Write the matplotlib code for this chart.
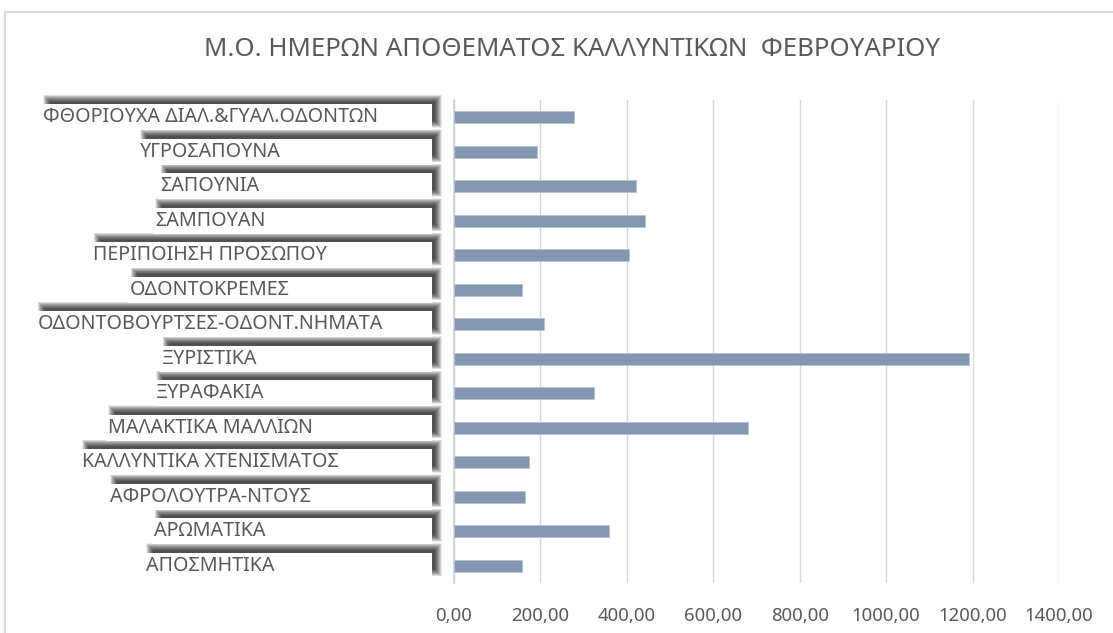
import matplotlib
matplotlib.use("Agg")
import matplotlib.pyplot as plt
from matplotlib.patches import Rectangle
from matplotlib.lines import Line2D
from matplotlib.ticker import FuncFormatter, MultipleLocator
import matplotlib.transforms as mtransforms

plt.rcParams['font.family'] = ['Noto Sans', 'DejaVu Sans']

categories = [
    "ΦΘΟΡΙΟΥΧΑ ΔΙΑΛ.&ΓΥΑΛ.ΟΔΟΝΤΩΝ",
    "ΥΓΡΟΣΑΠΟΥΝΑ",
    "ΣΑΠΟΥΝΙΑ",
    "ΣΑΜΠΟΥΑΝ",
    "ΠΕΡΙΠΟΙΗΣΗ ΠΡΟΣΩΠΟΥ",
    "ΟΔΟΝΤΟΚΡΕΜΕΣ",
    "ΟΔΟΝΤΟΒΟΥΡΤΣΕΣ-ΟΔΟΝΤ.ΝΗΜΑΤΑ",
    "ΞΥΡΙΣΤΙΚΑ",
    "ΞΥΡΑΦΑΚΙΑ",
    "ΜΑΛΑΚΤΙΚΑ ΜΑΛΛΙΩΝ",
    "ΚΑΛΛΥΝΤΙΚΑ ΧΤΕΝΙΣΜΑΤΟΣ",
    "ΑΦΡΟΛΟΥΤΡΑ-ΝΤΟΥΣ",
    "ΑΡΩΜΑΤΙΚΑ",
    "ΑΠΟΣΜΗΤΙΚΑ",
]
values = [278, 193, 420, 442, 404, 157, 209, 1191, 323, 681, 174, 165, 359, 157]
title = "Μ.Ο. ΗΜΕΡΩΝ ΑΠΟΘΕΜΑΤΟΣ ΚΑΛΛΥΝΤΙΚΩΝ  ΦΕΒΡΟΥΑΡΙΟΥ"

W, H = 1113, 633
fig = plt.figure(figsize=(W / 100, H / 100), dpi=100)
fig.patch.set_facecolor('white')

def fx(px):
    return px / W

def fy(py):
    return 1 - py / H

# outer chart border (partially visible)
fig.add_artist(Line2D([fx(5), fx(5)], [fy(H), fy(12)], color='#d9d9d9', lw=1.5))
fig.add_artist(Line2D([fx(5), fx(W)], [fy(12), fy(12)], color='#d9d9d9', lw=1.5))

ax = fig.add_axes([fx(454), fy(583), fx(1059) - fx(454), (583 - 100) / H])
y = list(range(len(categories)))
ax.barh(y, values, height=0.36, color='#8497b0', edgecolor='#b8c3d2', linewidth=0.7, zorder=3)
ax.set_xlim(0, 1400)
ax.set_ylim(len(categories) - 0.5, -0.5)
ax.xaxis.set_major_locator(MultipleLocator(200))
ax.xaxis.set_major_formatter(FuncFormatter(lambda v, p: f"{v:.2f}".replace('.', ',')))
ax.grid(axis='x', color='#d9d9d9', lw=1, zorder=0)
for s in ['top', 'right', 'bottom']:
    ax.spines[s].set_visible(False)
ax.spines['left'].set_color('#d0d0d0')
ax.spines['left'].set_linewidth(1.2)
ax.tick_params(axis='x', length=0, pad=17, labelsize=13.4, labelcolor='#595959')
ax.set_yticks([])

fig.text(fx(572), fy(50), title, ha='center', va='center', color='#595959', fontsize=18.6)

# category labels with shadowed white boxes
trans = mtransforms.blended_transform_factory(fig.transFigure, ax.transData)
texts = []
for i, c in enumerate(categories):
    t = fig.text(fx(210), i, c, transform=trans, ha='center', va='center',
                 color='#595959', fontsize=14.2, zorder=10)
    texts.append(t)

fig.canvas.draw()
renderer = fig.canvas.get_renderer()
box_right = 432
box_h = 26
boxes = []
for i, t in enumerate(texts):
    ext = t.get_window_extent(renderer)
    left = ext.x0 - 2
    yc_disp = ax.transData.transform((0, i))[1]
    bottom = yc_disp - box_h / 2
    boxes.append((left, bottom, box_right - left))

# blurred shadows, offset up-right
steps = [k * 0.5 for k in range(-7, 8)]
for left, bottom, width in boxes:
    sx, sy = left + 6, bottom + 6
    for r in steps:
        fig.add_artist(Rectangle((fx(sx - r), (sy - r) / H), (width + 2 * r) / W, (box_h + 2 * r) / H,
                                 transform=fig.transFigure, facecolor='black', edgecolor='none',
                                 alpha=0.07, zorder=4))
for left, bottom, width in boxes:
    fig.add_artist(Rectangle((fx(left), bottom / H), width / W, box_h / H,
                             transform=fig.transFigure, facecolor='white', edgecolor='none', zorder=6))

fig.savefig('out.png', dpi=100, facecolor='white')
